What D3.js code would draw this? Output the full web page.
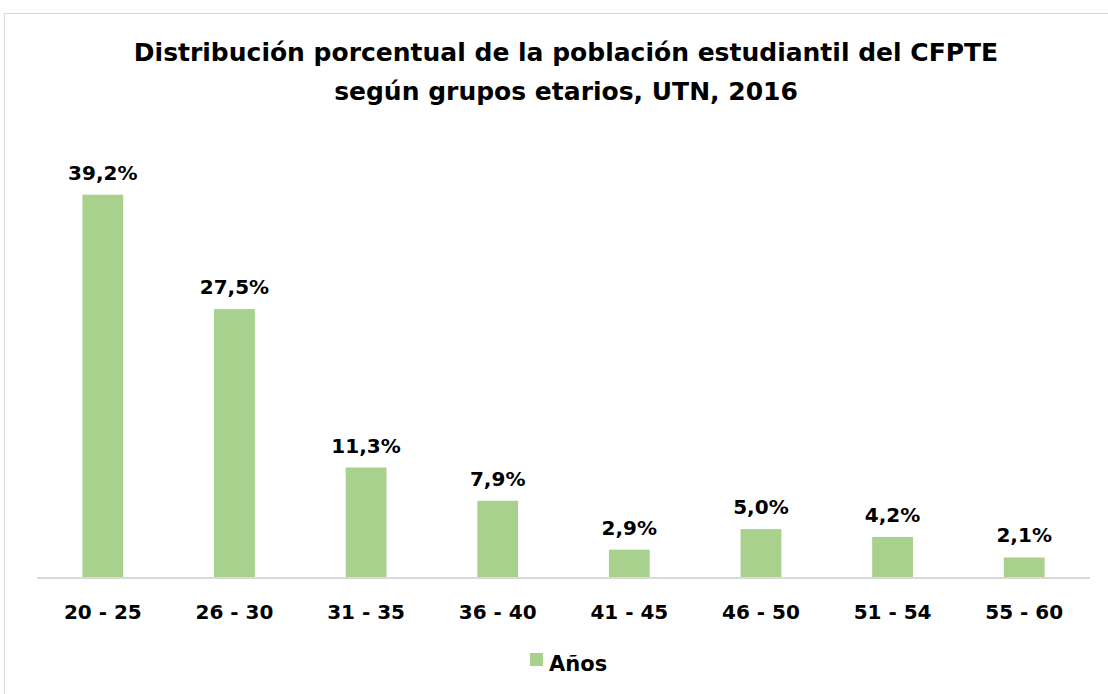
<!DOCTYPE html>
<html>
<head>
<meta charset="utf-8">
<script src="https://cdn.jsdelivr.net/npm/d3@7"></script>
<style>
  html, body { margin: 0; padding: 0; background: #fff; }
  svg { display: block; }
  text { font-family: "DejaVu Sans", sans-serif; font-weight: bold; fill: #000; }
</style>
</head>
<body>
<svg id="chart" width="1108" height="694"></svg>
<script>
const categories = ["20 - 25", "26 - 30", "31 - 35", "36 - 40", "41 - 45", "46 - 50", "51 - 54", "55 - 60"];
const values = [39.2, 27.5, 11.3, 7.9, 2.9, 5.0, 4.2, 2.1];
const seriesName = "Años";
const titleLines = ["Distribución porcentual de la población estudiantil del CFPTE", "según grupos etarios, UTN, 2016"];

const svg = d3.select("#chart");
const W = 1108, H = 694;
const barColor = "#a9d18e";

// chart area border
svg.append("rect")
  .attr("x", 4.5).attr("y", 13.5)
  .attr("width", W + 10).attr("height", H)
  .attr("fill", "#fff").attr("stroke", "#d9d9d9").attr("stroke-width", 1);

const x = d3.scaleBand().domain(categories).range([37, 1090]).paddingInner(0.69).paddingOuter(0.345);
const y = d3.scaleLinear().domain([0, 45]).range([578, 138]);

// title
svg.append("g").selectAll("text").data(titleLines).join("text")
  .attr("x", 566).attr("y", (d, i) => 61 + i * 39)
  .attr("text-anchor", "middle")
  .style("font-size", "25px")
  .text(d => d);

// bars
svg.append("g").selectAll("rect").data(values).join("rect")
  .attr("x", (d, i) => x(categories[i]))
  .attr("y", d => y(d))
  .attr("width", x.bandwidth())
  .attr("height", d => y(0) - y(d))
  .attr("fill", barColor);

// value labels
const fmt = v => d3.format(".1f")(v).replace(".", ",") + "%";
svg.append("g").selectAll("text").data(values).join("text")
  .attr("x", (d, i) => x(categories[i]) + x.bandwidth() / 2)
  .attr("y", d => y(d) - 15)
  .attr("text-anchor", "middle")
  .style("font-size", "20px")
  .text(d => fmt(d));

// axis
const axis = d3.axisBottom(x).tickSize(0).tickPadding(0);
const gx = svg.append("g").attr("transform", `translate(0,${y(0)})`).call(axis);
gx.select(".domain").attr("stroke", "#d9d9d9").attr("stroke-width", 2).attr("d", "M37,0H1090");
gx.selectAll(".tick text")
  .attr("dy", null).attr("y", 41)
  .style("font-family", "DejaVu Sans, sans-serif")
  .style("font-weight", "bold")
  .style("font-size", "20px")
  .attr("fill", "#000");

// legend
const lg = svg.append("g");
lg.append("rect").attr("x", 530).attr("y", 653).attr("width", 13).attr("height", 13).attr("fill", barColor);
lg.append("text").attr("x", 549).attr("y", 671).style("font-size", "21px").text(seriesName);
</script>
</body>
</html>
